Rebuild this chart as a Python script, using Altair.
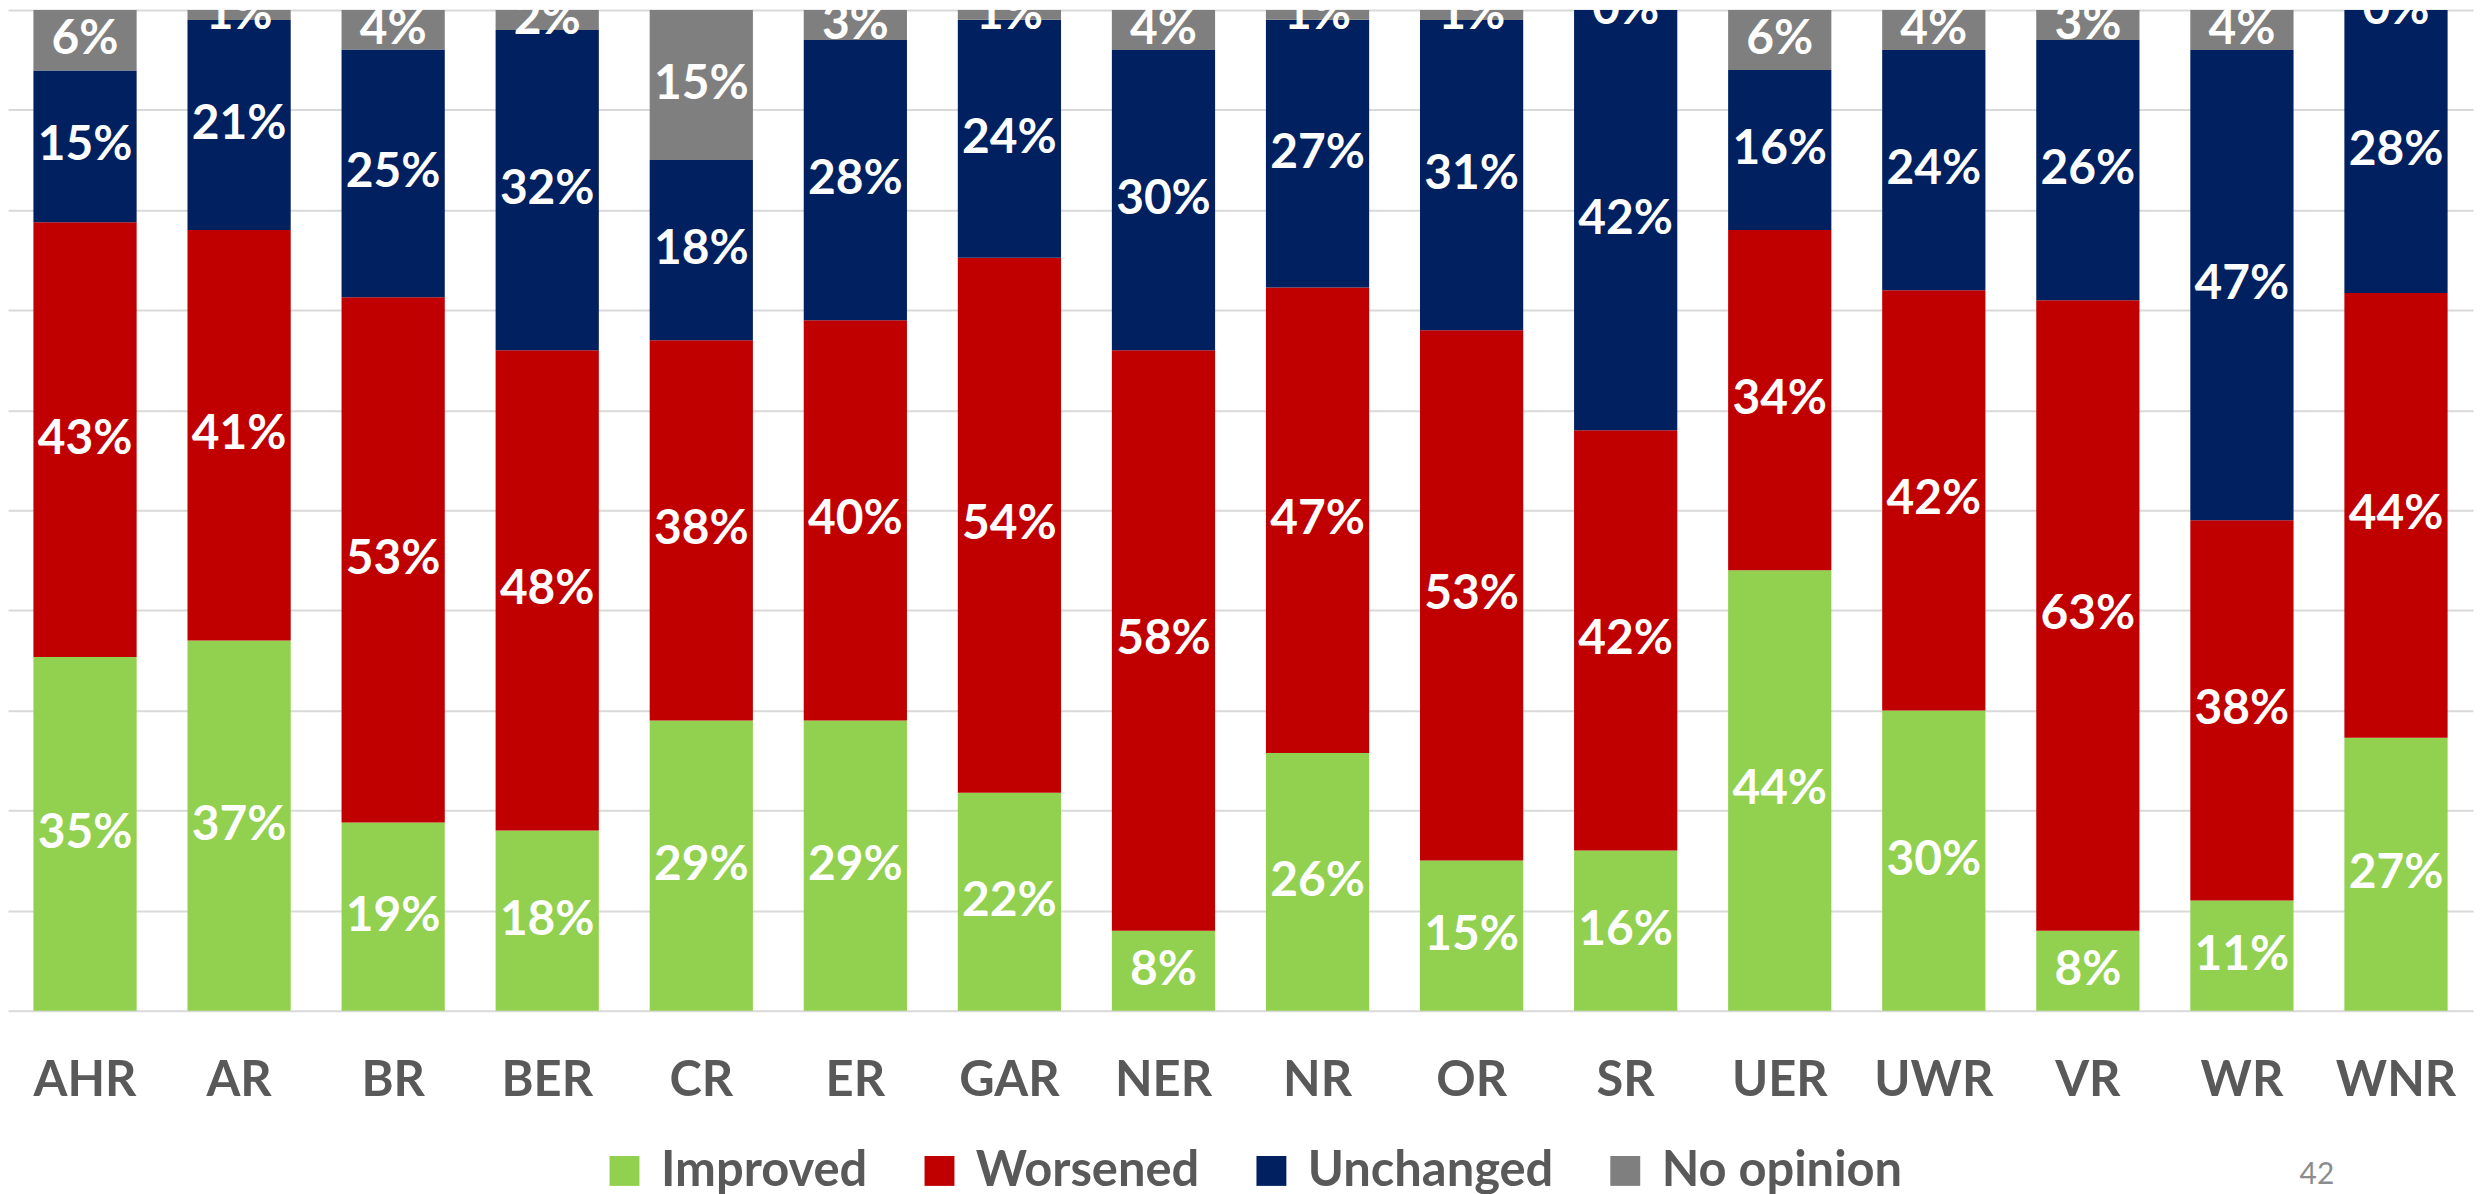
import altair as alt
import pandas as pd

regions = ["AHR", "AR", "BR", "BER", "CR", "ER", "GAR", "NER", "NR", "OR",
           "SR", "UER", "UWR", "VR", "WR", "WNR"]
improved = [35, 37, 19, 18, 29, 29, 22, 8, 26, 15, 16, 44, 30, 8, 11, 27]
worsened = [43, 41, 53, 48, 38, 40, 54, 58, 47, 53, 42, 34, 42, 63, 38, 44]
unchanged = [15, 21, 25, 32, 18, 28, 24, 30, 27, 31, 42, 16, 24, 26, 47, 28]
no_opinion = [6, 1, 4, 2, 15, 3, 1, 4, 1, 1, 0, 6, 4, 3, 4, 0]
categories = ["Improved", "Worsened", "Unchanged", "No opinion"]
colors = ["#92D050", "#C00000", "#002060", "#7F7F7F"]
page_number = "42"

series = [improved, worsened, unchanged, no_opinion]
rows = []
for ci, (cat, vals) in enumerate(zip(categories, series)):
    for r, v in zip(regions, vals):
        rows.append({"region": r, "category": cat, "order": ci, "value": v})
df = pd.DataFrame(rows)

FONT = "Lato"
grid_vals = [i / 10 for i in range(11)]

base = alt.Chart(df).transform_stack(
    stack="value",
    groupby=["region"],
    as_=["y0", "y1"],
    offset="normalize",
    sort=[alt.SortField("order", order="ascending")],
).transform_calculate(
    mid="(datum.y0 + datum.y1) / 2",
    label="datum.value + '%'",
)

x_enc = alt.X(
    "region:N",
    sort=regions,
    scale=alt.Scale(paddingInner=0.33, paddingOuter=0.165),
    axis=alt.Axis(
        title=None, labelAngle=0, ticks=False, domain=False, grid=False,
        labelFont=FONT, labelFontWeight="bold", labelFontSize=49,
        labelColor="#595959", labelPadding=46,
    ),
)

bars = base.mark_bar().encode(
    x=x_enc,
    y=alt.Y(
        "y0:Q",
        scale=alt.Scale(domain=[0, 1], nice=False, zero=True),
        axis=alt.Axis(
            values=grid_vals, labels=False, ticks=False, domain=False,
            title=None, grid=True, gridColor="#D9D9D9", gridWidth=2,
        ),
    ),
    y2="y1:Q",
    color=alt.Color(
        "category:N",
        scale=alt.Scale(domain=categories, range=colors),
        sort=categories,
        legend=alt.Legend(
            title=None, orient="none", direction="horizontal",
            legendX=594, legendY=1140,
            symbolType="square", symbolSize=900, symbolStrokeWidth=0,
            labelFont=FONT, labelFontWeight="bold", labelFontSize=49,
            labelColor="#595959", labelOffset=12, columnPadding=47,
            labelLimit=400,
        ),
    ),
    order=alt.Order("order:Q"),
)

texts = base.mark_text(
    font=FONT, fontWeight="bold", fontSize=48, color="white", baseline="middle"
).encode(
    x=alt.X("region:N", sort=regions),
    y=alt.Y("mid:Q"),
    text="label:N",
)

page = alt.Chart(pd.DataFrame({"t": [page_number]})).mark_text(
    font=FONT, fontSize=30, color="#8C8C8C", align="left", baseline="alphabetic"
).encode(
    text="t:N",
    x=alt.value(2299),
    y=alt.value(1178),
)

chart = alt.layer(bars, texts, page).properties(
    width=2473, height=1004,
    autosize=alt.AutoSizeParams(type="none"),
    padding={"left": 0, "top": 0, "right": 8, "bottom": 200},
).configure_view(stroke=None)

chart.save("out.html", embed_options={"renderer": "svg", "actions": False})
